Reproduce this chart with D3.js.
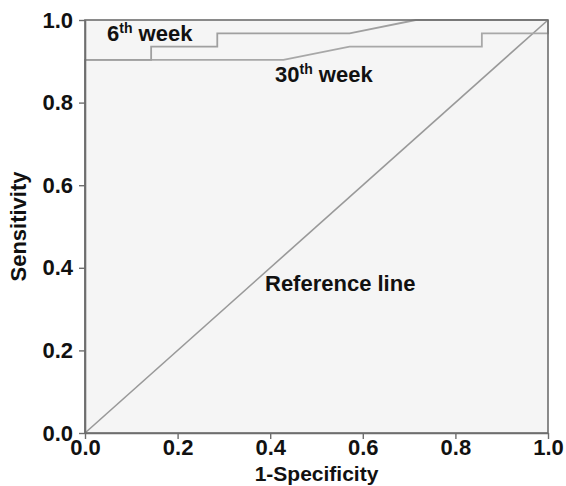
<!DOCTYPE html>
<html>
<head>
<meta charset="utf-8">
<script src="https://cdn.jsdelivr.net/npm/d3@7"></script>
<style>
  html, body { margin: 0; padding: 0; background: #fff; }
  svg { display: block; font-family: "Liberation Sans", Arial, sans-serif; }
</style>
</head>
<body>
<svg id="chart" width="566" height="486"></svg>
<script>
// Data
const week6X = [0, 0, 1/7, 1/7, 2/7, 2/7, 4/7, 5/7, 1];
const week6Y = [0, 28/31, 28/31, 29/31, 29/31, 30/31, 30/31, 1, 1];
const week30X = [0, 0, 3/7, 4/7, 6/7, 6/7, 1, 1];
const week30Y = [0, 28/31, 28/31, 29/31, 29/31, 30/31, 30/31, 1];
const refX = [0, 1];
const refY = [0, 1];
const tickValues = [0, 0.2, 0.4, 0.6, 0.8, 1.0];

const svg = d3.select("#chart");
const margin = { left: 85, right: 18, top: 20, bottom: 53 };
const W = 566, H = 486;
const FS = 22;

const x = d3.scaleLinear().domain([0, 1]).range([margin.left, W - margin.right]);
const y = d3.scaleLinear().domain([0, 1]).range([H - margin.bottom, margin.top]);

// plot background
svg.append("rect")
  .attr("x", x(0)).attr("y", y(1))
  .attr("width", x(1) - x(0)).attr("height", y(0) - y(1))
  .attr("fill", "#f5f5f5");

const line = d3.line().x(d => x(d[0])).y(d => y(d[1]));

// reference line
svg.append("path")
  .datum(refX.map((v, i) => [v, refY[i]]))
  .attr("d", line).attr("fill", "none")
  .attr("stroke", "#999").attr("stroke-width", 1.6);

// curves
svg.append("path")
  .datum(week30X.map((v, i) => [v, week30Y[i]]))
  .attr("d", line).attr("fill", "none")
  .attr("stroke", "#a8a8a8").attr("stroke-width", 1.8);

svg.append("path")
  .datum(week6X.map((v, i) => [v, week6Y[i]]))
  .attr("d", line).attr("fill", "none")
  .attr("stroke", "#a0a0a0").attr("stroke-width", 1.8);

// frame
svg.append("rect")
  .attr("x", x(0)).attr("y", y(1))
  .attr("width", x(1) - x(0)).attr("height", y(0) - y(1))
  .attr("fill", "none").attr("stroke", "#6e6e6e").attr("stroke-width", 1.6);

// axes
const fmt = d3.format(".1f");
const xAxis = svg.append("g")
  .attr("transform", `translate(0,${y(0)})`)
  .call(d3.axisBottom(x).tickValues(tickValues).tickFormat(fmt).tickSize(6).tickSizeOuter(0));
const yAxis = svg.append("g")
  .attr("transform", `translate(${x(0)},0)`)
  .call(d3.axisLeft(y).tickValues(tickValues).tickFormat(fmt).tickSize(6).tickSizeOuter(0));

[xAxis, yAxis].forEach(g => {
  g.select(".domain").attr("stroke", "#6e6e6e").attr("stroke-width", 1.6);
  g.selectAll(".tick line").attr("stroke", "#6e6e6e").attr("stroke-width", 1.4);
  g.selectAll(".tick text")
    .attr("fill", "#111").attr("font-size", FS).attr("font-weight", "bold")
    .attr("font-family", "'Liberation Sans', Arial, sans-serif");
});
xAxis.selectAll(".tick text").attr("y", 6);
yAxis.selectAll(".tick text").attr("x", -12);

// axis titles
svg.append("text")
  .attr("x", (x(0) + x(1)) / 2).attr("y", 481)
  .attr("text-anchor", "middle").attr("font-size", 21).attr("font-weight", "bold")
  .attr("fill", "#111").text("1-Specificity");

svg.append("text")
  .attr("transform", `translate(26,${(y(0) + y(1)) / 2}) rotate(-90)`)
  .attr("text-anchor", "middle").attr("font-size", FS).attr("font-weight", "bold")
  .attr("fill", "#111").text("Sensitivity");

// annotations
function label(px, py, parts) {
  const t = svg.append("text").attr("x", px).attr("y", py)
    .attr("font-size", FS).attr("font-weight", "bold").attr("fill", "#111");
  parts.forEach(p => {
    const ts = t.append("tspan").text(p.t);
    if (p.sup) ts.attr("font-size", 14).attr("dy", -8);
    if (p.down) ts.attr("dy", 8);
  });
}
label(107, 41, [{ t: "6" }, { t: "th", sup: true }, { t: " week", down: true }]);
label(275, 82, [{ t: "30" }, { t: "th", sup: true }, { t: " week", down: true }]);
svg.append("text").attr("x", 265).attr("y", 291)
  .attr("font-size", FS).attr("font-weight", "bold").attr("fill", "#111")
  .text("Reference line");
</script>
</body>
</html>
